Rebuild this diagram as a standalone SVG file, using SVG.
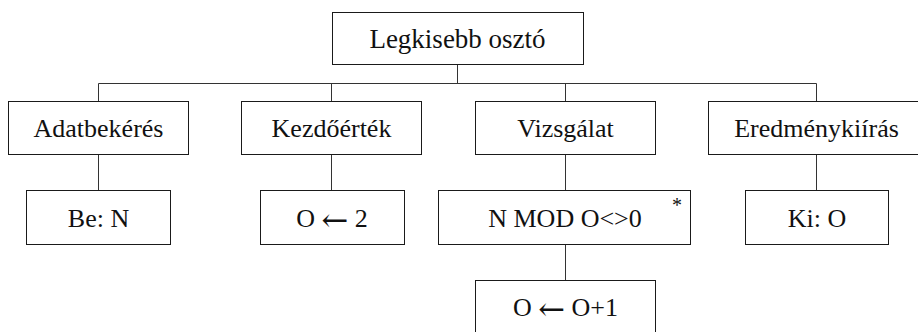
<svg xmlns="http://www.w3.org/2000/svg" width="918" height="332" viewBox="0 0 918 332">
<style>
.box{fill:#fff;stroke:#1a1a1a;stroke-width:1}
.ln{fill:none;stroke:#333;stroke-width:1}
</style>
<rect width="918" height="332" fill="#fff"/>
<g id="connectors">
<path class="ln" d="M457.5 64.5V83.5M98.5 83.5H816.5M98.5 83.5V101.5M331.5 83.5V101.5M565.5 83.5V101.5M816.5 83.5V101.5"/>
<path class="ln" d="M98.5 154.5V190.5M331.5 154.5V190.5M565.5 154.5V190.5M816.5 154.5V190.5M565.5 244.5V280.5"/>
</g>
<g id="root"><rect class="box" x="332.5" y="12.5" width="251" height="52"/><text style="font-family:'Liberation Serif',serif;font-size:27px;fill:#111;text-anchor:middle" x="457.5" y="48">Legkisebb osztó</text></g>
<g id="adatbekeres"><rect class="box" x="8.5" y="101.5" width="180" height="53"/><text style="font-family:'Liberation Serif',serif;font-size:26px;fill:#111;text-anchor:middle" x="98.5" y="136.5">Adatbekérés</text></g>
<g id="kezdoertek"><rect class="box" x="241.5" y="101.5" width="180" height="53"/><text style="font-family:'Liberation Serif',serif;font-size:26px;fill:#111;text-anchor:middle" x="331.5" y="136.5">Kezdőérték</text></g>
<g id="vizsgalat"><rect class="box" x="475.5" y="101.5" width="180" height="53"/><text style="font-family:'Liberation Serif',serif;font-size:26px;fill:#111;text-anchor:middle" x="565.5" y="136.5">Vizsgálat</text></g>
<g id="eredmenykiiras"><rect class="box" x="708.5" y="101.5" width="217" height="53"/><text style="font-family:'Liberation Serif',serif;font-size:26px;fill:#111;text-anchor:middle" x="816.5" y="136.5">Eredménykiírás</text></g>
<g id="be-n"><rect class="box" x="26.5" y="190.5" width="144" height="54"/><text style="font-family:'Liberation Serif',serif;font-size:26px;fill:#111;text-anchor:middle" x="98.5" y="226.5">Be: N</text></g>
<g id="o-2"><rect class="box" x="260.5" y="190.5" width="144" height="54"/><text style="font-family:'Liberation Serif',serif;font-size:26px;fill:#111;text-anchor:middle" x="332" y="226.5">O <tspan style="font-family:'DejaVu Serif',serif;font-size:32px" dy="4">←</tspan><tspan dy="-4"> 2</tspan></text></g>
<g id="nmod"><rect class="box" x="438.5" y="190.5" width="252" height="54"/><text style="font-family:'Liberation Serif',serif;font-size:26px;fill:#111;text-anchor:middle" x="565" y="226.5">N MOD O&lt;&gt;0</text><text style="font-family:'Liberation Serif',serif;font-size:20px;fill:#111;text-anchor:middle" x="677" y="212">*</text></g>
<g id="ki-o"><rect class="box" x="745.5" y="190.5" width="143" height="54"/><text style="font-family:'Liberation Serif',serif;font-size:26px;fill:#111;text-anchor:middle" x="817" y="226.5">Ki: O</text></g>
<g id="o-o1"><rect class="box" x="475.5" y="280.5" width="180" height="60"/><text style="font-family:'Liberation Serif',serif;font-size:26px;fill:#111;text-anchor:middle" x="565.5" y="316">O <tspan style="font-family:'DejaVu Serif',serif;font-size:32px" dy="4">←</tspan><tspan dy="-4"> O+1</tspan></text></g>
</svg>
